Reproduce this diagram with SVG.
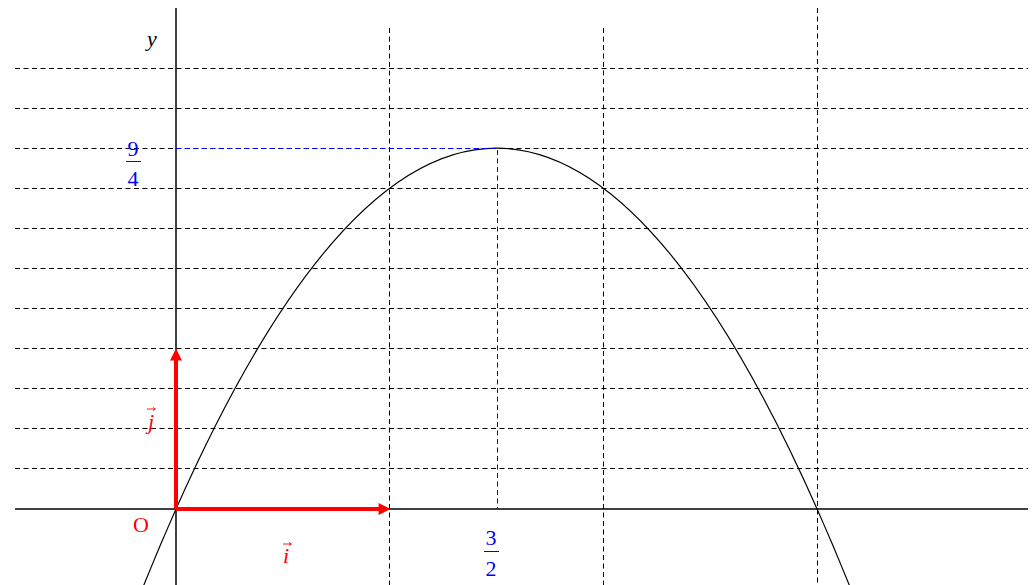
<svg xmlns="http://www.w3.org/2000/svg" width="1033" height="585" viewBox="0 0 1033 585">
<defs>
<style>
.grid{stroke:#000;stroke-width:1;stroke-dasharray:5,3.5;fill:none}
.blue{stroke:#0000ff;stroke-width:1;stroke-dasharray:5,3.5;fill:none}
.axis{stroke:#000;stroke-width:1.5;fill:none}
.vec{stroke:#ff0000;stroke-width:4;fill:none}
.t{font-family:"Liberation Serif","Times New Roman",serif;font-size:22px}
.red{fill:#ff0000}
.bl{fill:#0000ff}
</style>
<marker id="ah" viewBox="0 0 10 10" refX="2" refY="5" markerWidth="3.4" markerHeight="3" orient="auto" markerUnits="strokeWidth">
<path d="M0,0 L10,5 L0,10 z" fill="#ff0000"/>
</marker>
</defs>
<rect width="1033" height="585" fill="#fff"/>
<g id="grid">
<path class="grid" d="M15,68.5H1028M15,108.5H1028M15,148.5H1028M15,188.5H1028M15,228.5H1028M15,268.5H1028M15,308.5H1028M15,348.5H1028M15,388.5H1028M15,428.5H1028M15,468.5H1028"/>
<path class="grid" d="M389.5,28V585M603.5,28V585M817.5,8V585"/>
</g>
<g id="axes">
<path class="axis" d="M15,509H1028"/>
<path class="axis" d="M176,8V585" stroke="#333"/>
</g>
<g id="curve">
<path d="M139.67,595.44 Q496.55,-299.24 853.43,595.44" fill="none" stroke="#000" stroke-width="1.2"/>
</g>
<g id="guides">
<path class="blue" d="M176,148.5H497.5V509"/>
</g>
<g id="vectors">
<path class="vec" d="M176,509H381" marker-end="url(#ah)"/>
<path class="vec" d="M176,509V358" marker-end="url(#ah)"/>
</g>
<g id="labels">
<text class="t" x="147" y="46" font-style="italic">y</text>
<text class="t bl" x="133" y="156" text-anchor="middle">9</text>
<path d="M126,161.5H141" stroke="#0000ff" stroke-width="1"/>
<text class="t bl" x="133" y="186" text-anchor="middle">4</text>
<text class="t bl" x="491" y="545" text-anchor="middle">3</text>
<path d="M484,551.5H499" stroke="#0000ff" stroke-width="1"/>
<text class="t bl" x="491" y="576" text-anchor="middle">2</text>
<text class="t red" x="141" y="532" text-anchor="middle">O</text>
<text class="t red" x="286" y="563" font-style="italic" text-anchor="middle">i</text>
<path d="M283,544H291M289,542.5L291.5,544L289,545.5" stroke="#ff0000" stroke-width="0.9" fill="none"/>
<text class="t red" x="151" y="429" font-style="italic" text-anchor="middle">j</text>
<path d="M147,409H155M153,407.5L155.5,409L153,410.5" stroke="#ff0000" stroke-width="0.9" fill="none"/>
</g>
</svg>
